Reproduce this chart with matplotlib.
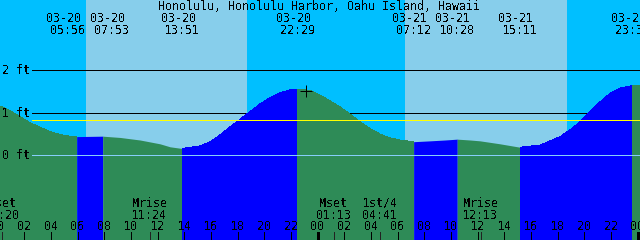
import matplotlib
matplotlib.use('Agg')
import matplotlib.pyplot as plt
import matplotlib.transforms as mtransforms
import numpy as np

title = "Honolulu, Honolulu Harbor, Oahu Island, Hawaii"

# tide curve (hours since 03-20 00:00, feet)
tide_hours = [0.18, 0.93, 1.68, 2.43, 3.18, 3.93, 4.68, 5.43, 5.93, 6.90, 7.88,
              9.18, 10.68, 12.18, 12.93, 13.85, 15.18, 15.93, 16.68, 17.43, 18.18,
              18.93, 19.68, 20.43, 21.18, 21.93, 22.48, 23.43, 24.18, 24.93, 25.68,
              26.43, 27.18, 27.93, 28.68, 29.43, 30.18, 31.20, 32.43, 33.55, 34.47,
              35.43, 36.18, 37.68, 39.18, 40.68, 42.18, 42.93, 43.68, 44.43, 45.18,
              45.93, 46.68, 47.60, 48.18]
tide_feet = [1.16, 1.05, 0.91, 0.77, 0.66, 0.56, 0.49, 0.45, 0.44, 0.445, 0.45,
             0.42, 0.36, 0.27, 0.20, 0.16, 0.22, 0.32, 0.48, 0.67, 0.85,
             1.03, 1.21, 1.36, 1.47, 1.54, 1.55, 1.53, 1.42, 1.28, 1.14,
             0.97, 0.79, 0.63, 0.50, 0.41, 0.36, 0.32, 0.34, 0.36, 0.38,
             0.36, 0.34, 0.27, 0.19, 0.24, 0.44, 0.60, 0.79, 1.03, 1.26,
             1.46, 1.58, 1.64, 1.63]

extreme_hours = [5.93, 7.88, 13.85, 22.48, 31.20, 34.47, 39.18, 47.60]
extreme_dates = ['03-20', '03-20', '03-20', '03-20', '03-21', '03-21', '03-21', '03-21']
extreme_times = ['05:56', '07:53', '13:51', '22:29', '07:12', '10:28', '15:11', '23:36']
extreme_label_hours = [5.28, 8.58, 13.85, 22.48, 31.20, 34.47, 39.18, 47.60]

sunrise_hours = [6.60, 30.58]
sunset_hours = [18.74, 42.72]

moon_hours = [0.33, 11.40, 25.22, 28.68, 36.22]
moon_names = ['Mset', 'Mrise', 'Mset', '1st/4', 'Mrise']
moon_times = ['00:20', '11:24', '01:13', '04:41', '12:13']

hour_ticks = list(range(0, 50, 2))
hour_labels = ['%02d' % (h % 24) for h in hour_ticks]
day_bounds = [0, 24, 48]

y_levels = [2, 1, 0]
y_labels = ['2 ft', '1 ft', '0 ft']
mean_level = 0.82
now_hour, now_feet = 23.13, 1.51

NIGHT = '#00BFFF'
DAY = '#87CEEB'
RISE = '#0000FF'
FALL = '#2E8B57'
FS = 8.4
FONT = 'DejaVu Sans Mono'
LW = 0.72  # one pixel
plt.rcParams['text.antialiased'] = False

W, H = 640, 240
fig = plt.figure(figsize=(6.4, 2.4), dpi=100)
ax = fig.add_axes([0, 0, 1, 1])
x0 = 0.178
ax.set_xlim(x0, x0 + 48)
ax.set_ylim(-(240 - 155.3) / 42.5, 155.3 / 42.5)
ax.axis('off')
fig.patch.set_facecolor(NIGHT)

for r, s in zip(sunrise_hours, sunset_hours):
    ax.axvspan(r, s, color=DAY, lw=0, zorder=0)

# grid lines behind the water
for lv in y_levels[:2]:
    ax.axhline(lv, xmin=32 / W, xmax=1, color='black', lw=LW, zorder=1, antialiased=False)

th = np.array(tide_hours)
tf = np.array(tide_feet)
bounds = [x0] + extreme_hours + [x0 + 48.5]
for i in range(len(bounds) - 1):
    a, b = bounds[i], bounds[i + 1]
    m = (th >= a - 1e-9) & (th <= b + 1e-9)
    col = FALL if i % 2 == 0 else RISE
    ax.fill_between(th[m], -5, tf[m], color=col, lw=0, zorder=2, antialiased=False)

ax.axhline(0, xmin=32 / W, xmax=1, color='#87CEFA', lw=LW, zorder=3, antialiased=False)
ax.axhline(mean_level, xmin=32 / W, xmax=1, color='#FFFF00', lw=LW, zorder=3, antialiased=False)
ax.plot([now_hour], [now_feet], marker='+', color='black', ms=9, mew=LW, zorder=4)

blend = mtransforms.blended_transform_factory(ax.transData, fig.transFigure)

def py(p):
    return 1 - p / H

# hour ticks
for h in hour_ticks:
    lw = 2.16 if h in day_bounds else LW
    ax.vlines(h, py(240), py(232), transform=blend, color='black', lw=lw, zorder=5, antialiased=False)
for h in moon_hours:
    ax.vlines(h, py(240), py(232), transform=blend, color='#222222', lw=LW, zorder=5, antialiased=False)

for h, lab in zip(hour_ticks, hour_labels):
    ax.text(h, py(230), lab, transform=blend, ha='center', va='baseline',
            fontsize=FS, family=FONT, color='black', zorder=6)

for h, n, t in zip(moon_hours, moon_names, moon_times):
    ax.text(h, py(207), n, transform=blend, ha='center', va='baseline',
            fontsize=FS, family=FONT, color='black', zorder=6)
    ax.text(h, py(219), t, transform=blend, ha='center', va='baseline',
            fontsize=FS, family=FONT, color='black', zorder=6)

off = mtransforms.offset_copy(blend, fig=fig, x=-4, y=0, units='dots')
for h, d, t in zip(extreme_label_hours, extreme_dates, extreme_times):
    ax.text(h, py(22), d, transform=off, ha='center', va='baseline',
            fontsize=FS, family=FONT, color='black', zorder=6)
    ax.text(h, py(34), t, transform=blend, ha='center', va='baseline',
            fontsize=FS, family=FONT, color='black', zorder=6)

fig.text(318.5 / W, py(10), title, ha='center', va='baseline', fontsize=FS,
         family=FONT, color='black')

for lv, lab in zip(y_levels, y_labels):
    yy = ax.transData.transform((x0, lv))[1]
    fig.text(2 / W, (yy - 4) / H, lab, ha='left', va='baseline', fontsize=FS,
             family=FONT, color='black', zorder=6)

fig.savefig('out.png', dpi=100, facecolor=NIGHT)
